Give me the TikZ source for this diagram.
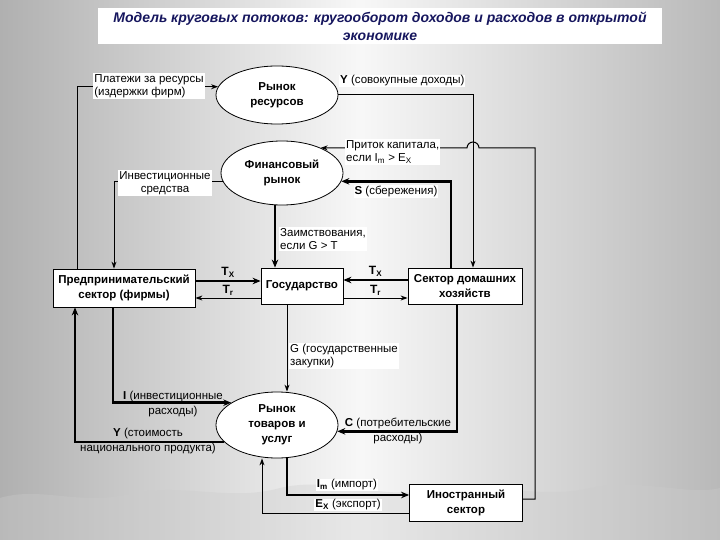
\documentclass[tikz,border=0pt]{standalone}
\usepackage{fontspec}
\setmainfont{Liberation Sans}
\usetikzlibrary{arrows.meta,positioning,calc,shapes.geometric}
\definecolor{titleNavy}{HTML}{16165E}

\begin{document}
\begin{tikzpicture}[x=1pt,y=-1pt,
    mkt/.style={draw,ellipse,fill=white,line width=0.8pt,inner sep=0pt,align=center,font=\fontsize{11.5}{15}\selectfont\bfseries},
    sect/.style={draw,rectangle,fill=white,line width=0.8pt,inner sep=1pt,align=center,font=\fontsize{11.5}{14.5}\selectfont\bfseries},
    lbl/.style={font=\fontsize{11.5}{13.5}\selectfont,inner sep=1pt},
    wlbl/.style={lbl,fill=white},
    tlbl/.style={font=\fontsize{12}{14}\selectfont\bfseries,inner sep=2pt},
    flow/.style={line width=1pt,-{Stealth[length=7pt,width=5pt]}},
    bflow/.style={line width=2.5pt,-{Stealth[length=8pt,width=6.5pt]}}]
    \useasboundingbox (0,0) rectangle (720,540);
    % background
    \shade[left color=gray!62,right color=gray!55,middle color=gray!6] (0,0) rectangle (720,540);
    \fill[gray!40,opacity=.35] (0,540) -- (0,498) .. controls (40,486) and (80,506) .. (130,494)
      .. controls (180,482) and (230,502) .. (280,488) .. controls (330,476) and (380,500) .. (430,490)
      .. controls (480,480) and (540,500) .. (590,488) .. controls (640,478) and (690,496) .. (720,488)
      -- (720,540) -- cycle;
    \node[fill=white,minimum width=564pt,minimum height=36pt,align=center,text=titleNavy,
      font=\fontsize{14}{18}\selectfont\bfseries\itshape] (title) at (380,26)
      {Модель круговых потоков: кругооборот доходов и расходов в открытой\\экономике};

    % markets and sectors
    \node[mkt,minimum width=122pt,minimum height=58pt] (res) at (277,95) {Рынок\\ресурсов};
    \node[mkt,minimum width=122pt,minimum height=64pt] (fin) at (282,173) {Финансовый\\рынок};
    \node[mkt,minimum width=122pt,minimum height=66pt] (goods) at (277,425) {Рынок\\товаров и\\услуг};
    \node[sect,minimum width=142pt,minimum height=38pt] (firm) at (124,288) {Предпринимательский\\сектор (фирмы)};
    \node[sect,minimum width=82pt,minimum height=36pt] (gov) at (302,286) {Государство};
    \node[sect,minimum width=114pt,minimum height=36pt] (hh) at (465,286) {Сектор домашних\\хозяйств};
    \node[sect,minimum width=113pt,minimum height=37pt] (frn) at (466,503) {Иностранный\\сектор};
    \coordinate (hop) at (473,148);

    % flows
    \draw[flow] ([xshift=25pt]firm.north west) |- (res.172);
    \draw[flow] (res.east) -| ([xshift=8pt]hh.north);
    \draw[flow] ([yshift=4pt]frn.east) -| ([xshift=62pt]hop) -- ([xshift=6pt]hop)
      arc[start angle=0,end angle=180,radius=6pt] -- (fin.33);
    \draw[bflow] ([xshift=-14pt]hh.north) |- (fin.-8);
    \draw[flow] (fin.188) -| ([xshift=-10pt]firm.north);
    \draw[bflow] ([xshift=-27pt]gov.north |- fin.south) -- ([xshift=-27pt]gov.north);
    \draw[bflow] ([yshift=7pt]firm.east) -- ([yshift=7pt]firm.east -| gov.west)
      node[midway,above,tlbl] (txF) {T\textsubscript{X}};
    \draw[flow] ([yshift=-12pt]gov.west) -- ([yshift=-12pt]gov.west -| firm.east)
      node[midway,above,tlbl] (trF) {T\textsubscript{r}};
    \draw[bflow] ([yshift=6pt]hh.west) -- ([yshift=6pt]hh.west -| gov.east)
      node[midway,above,tlbl] (txH) {T\textsubscript{X}};
    \draw[flow] ([yshift=-12pt]gov.east) -- ([yshift=-12pt]gov.east -| hh.west)
      node[midway,above,tlbl] (trH) {T\textsubscript{r}};
    \draw[flow] ([xshift=-15pt]gov.south) -- ([xshift=-15pt]gov.south |- goods.north);
    \draw[bflow] ([xshift=-11pt]firm.south) |- (goods.154);
    \draw[bflow] (goods.198) -| ([xshift=-49pt]firm.south);
    \draw[bflow] ([xshift=-8pt]hh.south) |- (goods.-6);
    \draw[bflow] ([xshift=10pt]goods.south) |- ([yshift=8pt]frn.west);
    \draw[flow] ([yshift=-10pt]frn.west) -| ([xshift=-15pt]goods.south);

    % labels
    \node[wlbl,align=left] (payL) at (149,86) {Платежи за ресурсы\\(издержки фирм)};
    \node[wlbl,anchor=west] (incL) at (339,81) {\textbf{Y} (совокупные доходы)};
    \node[wlbl,align=left,anchor=west] (capL) at (345,152) {Приток капитала,\\если I\textsubscript{m} > E\textsubscript{X}};
    \node[wlbl,anchor=north] (savL) at (396,185) {\textbf{S} (сбережения)};
    \node[wlbl,align=center] (invfL) at (165,183) {Инвестиционные\\средства};
    \node[wlbl,align=left,anchor=west] (borL) at (279,239) {Заимствования,\\если G > T};
    \node[wlbl,align=left,anchor=west] (govL) at (289,356) {G (государственные\\закупки)};
    \node[lbl,align=center] (invL) at (173,404) {\textbf{I} (инвестиционные\\[2pt]расходы)};
    \node[lbl,align=center] (gdpL) at (148,441) {\textbf{Y} (стоимость\\[2pt]национального продукта)};
    \node[lbl,align=center] (conL) at (398,431) {\textbf{C} (потребительские\\[2pt]расходы)};
    \node[wlbl] (impL) at (347,485) {\textbf{I\textsubscript{m}} (импорт)};
    \node[wlbl] (expL) at (348,505) {\textbf{E\textsubscript{X}} (экспорт)};
\end{tikzpicture}
\end{document}
